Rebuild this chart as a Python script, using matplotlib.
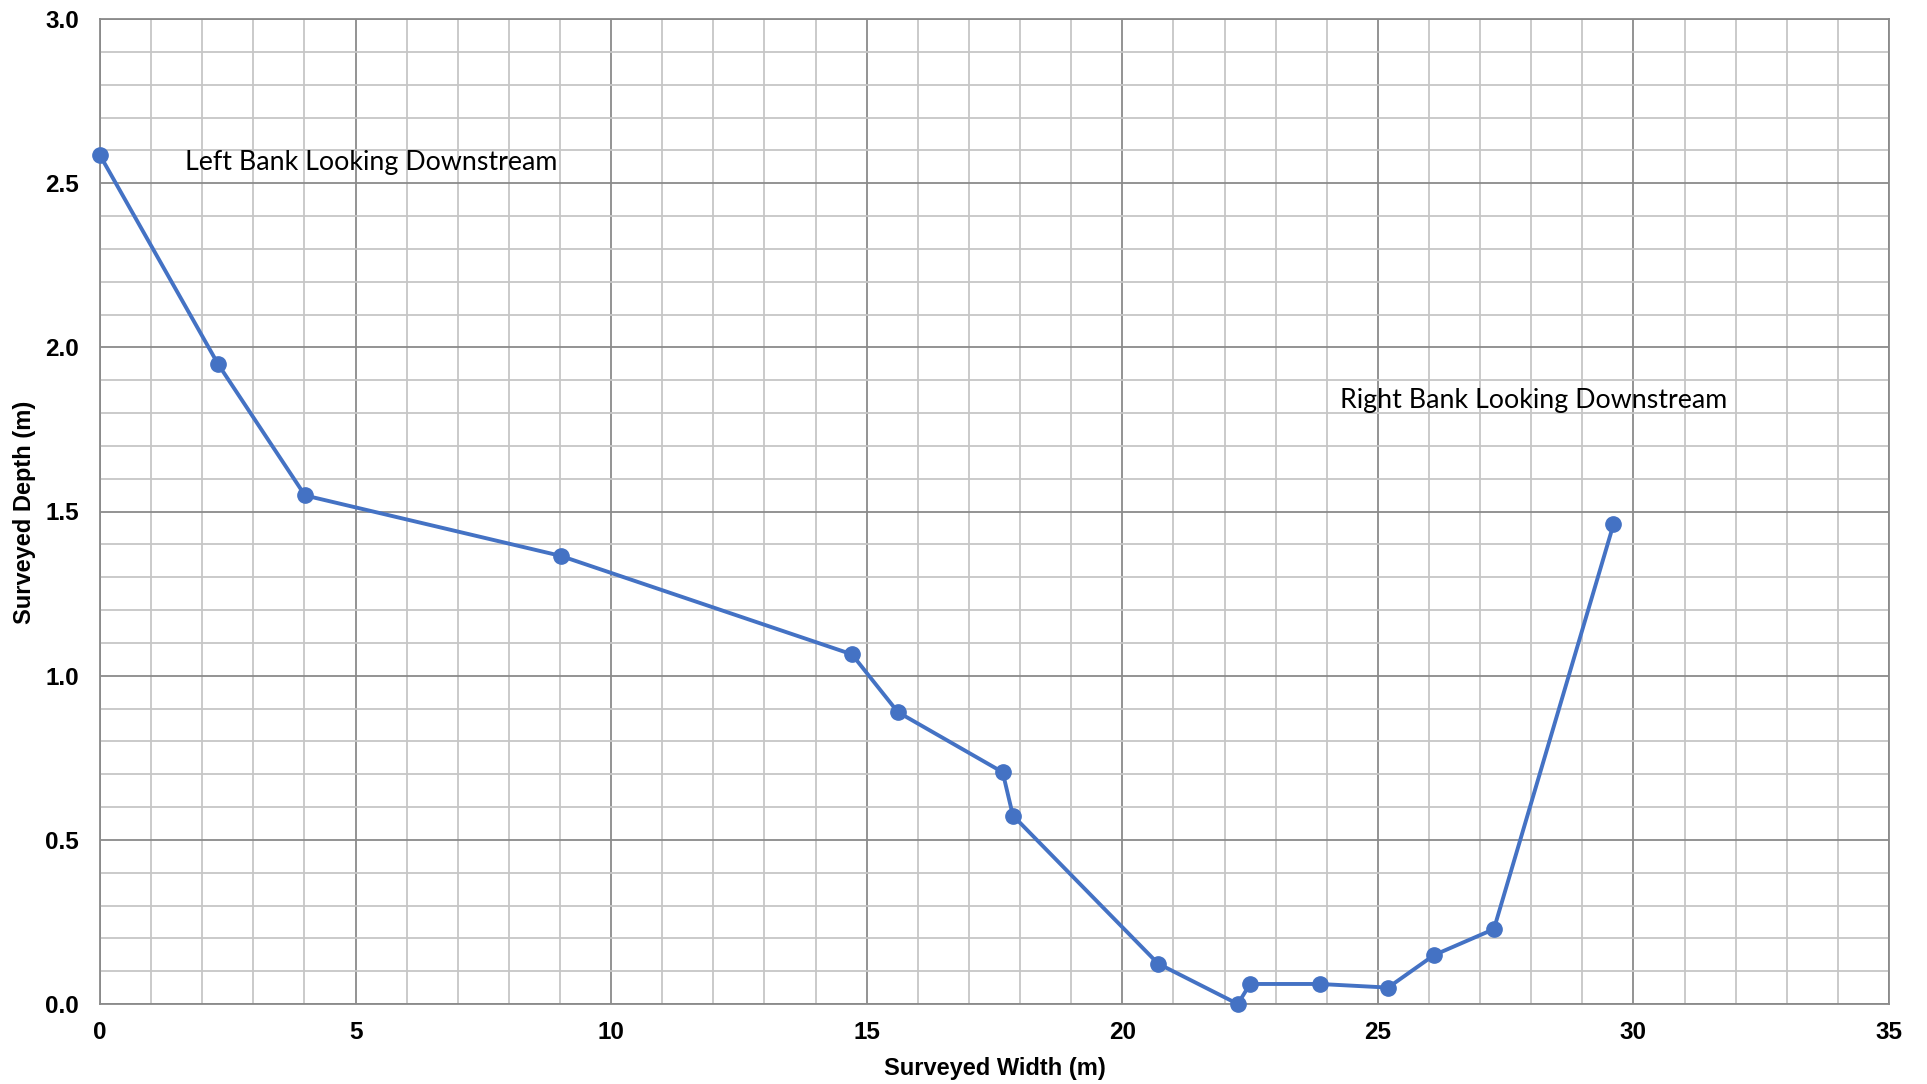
import matplotlib.pyplot as plt
from matplotlib.ticker import MultipleLocator

# Surveyed cross section
width_m = [0.0, 2.31, 4.01, 9.01, 14.71, 15.61, 17.66, 17.86, 20.70,
           22.26, 22.50, 23.86, 25.20, 26.10, 27.27, 29.61]
depth_m = [2.585, 1.949, 1.549, 1.365, 1.065, 0.889, 0.706, 0.574, 0.123,
           0.0, 0.061, 0.061, 0.050, 0.149, 0.228, 1.461]

x_ticks = [0, 5, 10, 15, 20, 25, 30, 35]
y_ticks = [0.0, 0.5, 1.0, 1.5, 2.0, 2.5, 3.0]

fig = plt.figure(figsize=(19.27, 10.84), dpi=100)
ax = fig.add_axes([100 / 1927, 1 - 1004 / 1084, 1789 / 1927, 985 / 1084])

ax.plot(width_m, depth_m, color="#4472C4", linewidth=2.8, marker="o",
        markersize=11, zorder=3, clip_on=False)

ax.set_xlim(0, 35)
ax.set_ylim(0, 3)
ax.set_xticks(x_ticks)
ax.set_yticks(y_ticks)
ax.xaxis.set_minor_locator(MultipleLocator(1))
ax.yaxis.set_minor_locator(MultipleLocator(0.1))
ax.grid(which="minor", color="#C6C6C6", linewidth=1.3, zorder=0)
ax.grid(which="major", color="#8A8A8A", linewidth=1.3, zorder=1)
ax.set_axisbelow(True)
for s in ax.spines.values():
    s.set_color("#8A8A8A")
    s.set_linewidth(1.3)
ax.tick_params(which="both", length=0)
ax.tick_params(axis="x", pad=12)
ax.tick_params(axis="y", pad=15)

tick_font = {"family": "Liberation Sans", "weight": "bold", "size": 17.5}
label_font = {"family": "Liberation Sans", "weight": "bold", "size": 17}
ax.set_xticklabels([str(v) for v in x_ticks], fontdict=tick_font)
ax.set_yticklabels([f"{v:.1f}" for v in y_ticks], fontdict=tick_font)

fig.text(0.5 * (100 + 1889) / 1927, 1 - 1068 / 1084, "Surveyed Width (m)",
         ha="center", va="center", **label_font)
fig.text(25 / 1927, 1 - 512 / 1084, "Surveyed Depth (m)", rotation=90,
         ha="center", va="center", **label_font)

ax.text(1.66, 2.54, "Left Bank Looking Downstream", family="Lato", fontsize=19.3)
ax.text(24.26, 1.815, "Right Bank Looking Downstream", family="Lato", fontsize=19.3)

fig.savefig("out.png", dpi=100)
